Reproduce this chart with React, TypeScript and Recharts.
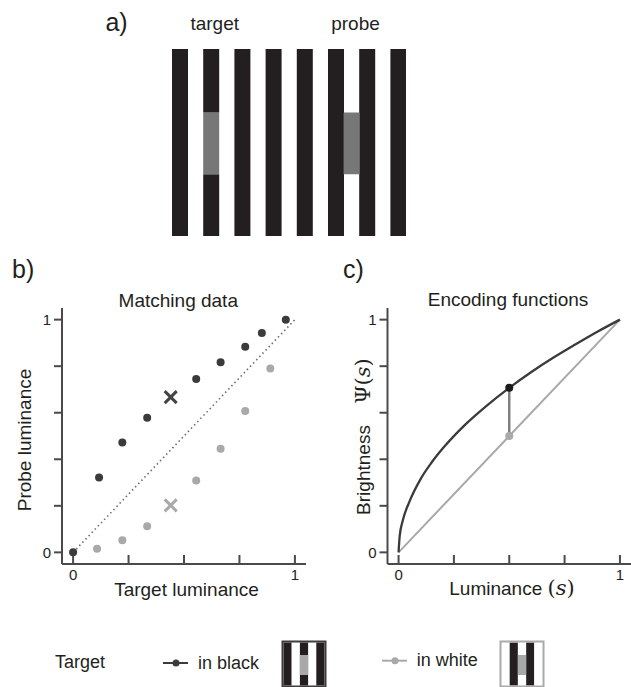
import { Bar, BarChart, Cell, ComposedChart, Line, Scatter, XAxis, YAxis } from 'recharts';

const FONT = '"Liberation Sans", Arial, sans-serif';
const SERIF = '"DejaVu Serif", "Liberation Serif", serif';
const INK = '#231f20';
const DARK = '#3b3b3b';
const LIGHT = '#a9a9a9';
const AXIS = '#4a4a4a';
const PATCH = '#777777';

// a) stimulus: stripes (b) and gaps (w), left to right
const stimSlots = ['b1', 'w1', 'b2', 'w2', 'b3', 'w3', 'b4', 'w4', 'b5', 'w5', 'b6', 'w6', 'b7', 'w7', 'b8'];
const stimLower = [1, 0, 0.33, 0, 1, 0, 1, 0, 1, 0, 1, 0.33, 1, 0, 1];
const stimPatch = [0, 0, 0.33, 0, 0, 0, 0, 0, 0, 0, 0, 0.33, 0, 0, 0];
const stimUpper = [0, 0, 0.34, 0, 0, 0, 0, 0, 0, 0, 0, 0, 0, 0, 0];

// b) matching data
const blackTarget = [0, 0.117, 0.222, 0.334, 0.555, 0.665, 0.776, 0.851, 0.959];
const blackProbe = [0, 0.322, 0.472, 0.578, 0.745, 0.817, 0.883, 0.943, 1.0];
const whiteTarget = [0.108, 0.222, 0.334, 0.555, 0.665, 0.776, 0.889];
const whiteProbe = [0.015, 0.052, 0.112, 0.309, 0.445, 0.607, 0.79];
const blackCross = [{ x: 0.44, y: 0.667 }];
const whiteCross = [{ x: 0.44, y: 0.202 }];
const identity = [{ x: 0, y: 0 }, { x: 1, y: 1 }];

// c) encoding functions
const lum = [0, 0.005, 0.02, 0.05, 0.1, 0.15, 0.2, 0.3, 0.4, 0.5, 0.6, 0.7, 0.8, 0.9, 1];
const brightInBlack = [0, 0.07, 0.14, 0.22, 0.316, 0.387, 0.447, 0.548, 0.632, 0.707, 0.775, 0.837, 0.894, 0.949, 1];
const brightInWhite = [{ x: 0, y: 0 }, { x: 1, y: 1 }];
const markBlack = [{ x: 0.5, y: 0.707 }];
const markWhite = [{ x: 0.5, y: 0.5 }];

const xTicks = [0, 0.25, 0.5, 0.75, 1];
const yTicks = [0, 0.2, 0.4, 0.6, 0.8, 1];

const stimData = stimSlots.map((slot, i) => ({
  slot, lower: stimLower[i], patch: stimPatch[i], upper: stimUpper[i],
}));
const blackPts = blackTarget.map((x, i) => ({ x, y: blackProbe[i] }));
const whitePts = whiteTarget.map((x, i) => ({ x, y: whiteProbe[i] }));
const curve = lum.map((x, i) => ({ x, y: brightInBlack[i] }));
const connector = [markBlack[0], markWhite[0]];

const endLabel = (v: number) => (v === 0 || v === 1 ? String(v) : '');
const lineStyle = { stroke: AXIS, strokeWidth: 2 };

const xTick = (p: any) => (
  <text x={p.x} y={p.y} dy="0.71em" textAnchor="middle" fontSize={15} fontFamily={FONT} fill={INK}>
    {endLabel(p.payload.value)}
  </text>
);
const yTick = (p: any) => (
  <text x={p.x} y={p.y} dy="0.36em" textAnchor="end" fontSize={15} fontFamily={FONT} fill={INK}>
    {endLabel(p.payload.value)}
  </text>
);

const dot = (color: string) => (p: any) => <circle cx={p.cx} cy={p.cy} r={4} fill={color} />;
const cross = (color: string) => (p: any) => (
  <path
    d={`M${p.cx - 6},${p.cy - 6}L${p.cx + 6},${p.cy + 6}M${p.cx + 6},${p.cy - 6}L${p.cx - 6},${p.cy + 6}`}
    stroke={color} strokeWidth={3}
  />
);

function axes() {
  return [
    <XAxis key="x" type="number" dataKey="x" domain={[-0.05, 1.05]} ticks={xTicks} interval={0}
      height={1} tickSize={-9} tickMargin={14} allowDataOverflow
      axisLine={lineStyle} tickLine={lineStyle} tick={xTick} />,
    <YAxis key="y" type="number" dataKey="y" domain={[-0.05, 1.05]} ticks={yTicks} interval={0}
      width={1} tickSize={8} tickMargin={3} allowDataOverflow
      axisLine={lineStyle} tickLine={lineStyle} tick={yTick} />,
  ];
}

function Swatch({ x, border, cols, mid }: { x: number; border: string; cols: string[]; mid: string }) {
  const w = 41 / cols.length;
  return (
    <g>
      {cols.map((c, i) => (
        <rect key={i} x={x + 1 + i * w} y={642.5} width={w} height={43} fill={c === 'mid' ? 'none' : c} />
      ))}
      {cols.map((c, i) => c === 'mid' ? (
        <g key={'m' + i}>
          <rect x={x + 1 + i * w} y={642.5} width={w} height={43} fill={mid === 'black' ? INK : 'white'} />
          <rect x={x + 1 + i * w} y={655} width={w} height={20} fill="#a8a8a8" />
        </g>
      ) : null)}
      <rect x={x} y={641.5} width={43} height={45} fill="none" stroke={border} strokeWidth={2} />
    </g>
  );
}

export default function App() {
  return (
    <div style={{ position: 'absolute', left: 0, top: 0, width: 631, height: 687, background: '#fff', fontFamily: FONT }}>
      <div style={{ position: 'absolute', left: 172, top: 49 }}>
        <BarChart width={234} height={187} data={stimData} margin={{ top: 0, right: 0, bottom: 0, left: 0 }} barCategoryGap={0}>
          <XAxis dataKey="slot" hide />
          <YAxis hide domain={[0, 1]} allowDataOverflow />
          <Bar dataKey="lower" stackId="s" isAnimationActive={false}>
            {stimData.map((d) => <Cell key={d.slot} fill={d.slot.startsWith('w') ? 'none' : INK} />)}
          </Bar>
          <Bar dataKey="patch" stackId="s" fill={PATCH} isAnimationActive={false} />
          <Bar dataKey="upper" stackId="s" fill={INK} isAnimationActive={false} />
        </BarChart>
      </div>

      <div style={{ position: 'absolute', left: 0, top: 280 }}>
        <ComposedChart width={320} height={330} margin={{ top: 28, right: 14, bottom: 45, left: 61 }}>
          {axes()}
          <Line data={identity} dataKey="y" type="linear" stroke="#6e6e6e" strokeWidth={1.6}
            strokeDasharray="1.5 3" dot={false} isAnimationActive={false} />
          <Scatter data={whitePts} shape={dot(LIGHT)} isAnimationActive={false} />
          <Scatter data={blackPts} shape={dot(DARK)} isAnimationActive={false} />
          <Scatter data={blackCross} shape={cross('#444444')} isAnimationActive={false} />
          <Scatter data={whiteCross} shape={cross(LIGHT)} isAnimationActive={false} />
        </ComposedChart>
      </div>

      <div style={{ position: 'absolute', left: 320, top: 280 }}>
        <ComposedChart width={311} height={330} margin={{ top: 28, right: 0, bottom: 45, left: 66.5 }}>
          {axes()}
          <Line data={brightInWhite} dataKey="y" type="linear" stroke={LIGHT} strokeWidth={2}
            dot={false} isAnimationActive={false} />
          <Line data={curve} dataKey="y" type="monotone" stroke={DARK} strokeWidth={2.3}
            dot={false} isAnimationActive={false} />
          <Line data={connector} dataKey="y" type="linear" stroke="#808080" strokeWidth={2.5}
            dot={false} isAnimationActive={false} />
          <Scatter data={markWhite} shape={dot(LIGHT)} isAnimationActive={false} />
          <Scatter data={markBlack} shape={dot('#1a1a1a')} isAnimationActive={false} />
        </ComposedChart>
      </div>

      <svg width={631} height={687} style={{ position: 'absolute', left: 0, top: 0, pointerEvents: 'none' }}
        fontFamily={FONT} fill={INK}>
        <text x={116.5} y={31} fontSize={25} textAnchor="middle">a)</text>
        <text x={214.7} y={29.5} fontSize={19} textAnchor="middle">target</text>
        <text x={355.5} y={29.5} fontSize={19} textAnchor="middle">probe</text>

        <text x={12} y={278} fontSize={25}>b)</text>
        <text x={343} y={278} fontSize={25}>c)</text>
        <text x={178.3} y={307} fontSize={19} textAnchor="middle">Matching data</text>
        <text x={508} y={306} fontSize={19} textAnchor="middle">Encoding functions</text>
        <text x={186.5} y={596} fontSize={19} textAnchor="middle">Target luminance</text>
        <text x={449.3} y={595} fontSize={19}>
          Luminance{' '}
          <tspan fontFamily={SERIF} fontSize={21}>(<tspan fontStyle="italic">s</tspan>)</tspan>
        </text>
        <text transform="translate(31,440) rotate(-90)" fontSize={19} textAnchor="middle">Probe luminance</text>
        <text transform="translate(370.3,470) rotate(-90)" fontSize={19} textAnchor="middle">Brightness</text>
        <text transform="translate(370.3,381) rotate(-90)" fontSize={21} fontFamily={SERIF} textAnchor="middle">
          Ψ(<tspan fontStyle="italic">s</tspan>)
        </text>

        <text x={55} y={668} fontSize={18}>Target</text>
        <line x1={163} x2={188} y1={663} y2={663} stroke={DARK} strokeWidth={2} />
        <circle cx={176} cy={663} r={3.5} fill={DARK} />
        <text x={198} y={669} fontSize={18}>in black</text>
        <Swatch x={282.5} border="#3d3d3d" cols={[INK, 'white', 'mid', 'white', INK]} mid="black" />

        <line x1={382} x2={407} y1={660.7} y2={660.7} stroke={LIGHT} strokeWidth={2} />
        <circle cx={395} cy={660.7} r={3.5} fill={LIGHT} />
        <text x={416.7} y={666} fontSize={18}>in white</text>
        <Swatch x={500.5} border="#aaaaaa" cols={['white', INK, 'mid', INK, 'white']} mid="white" />
      </svg>
    </div>
  );
}
